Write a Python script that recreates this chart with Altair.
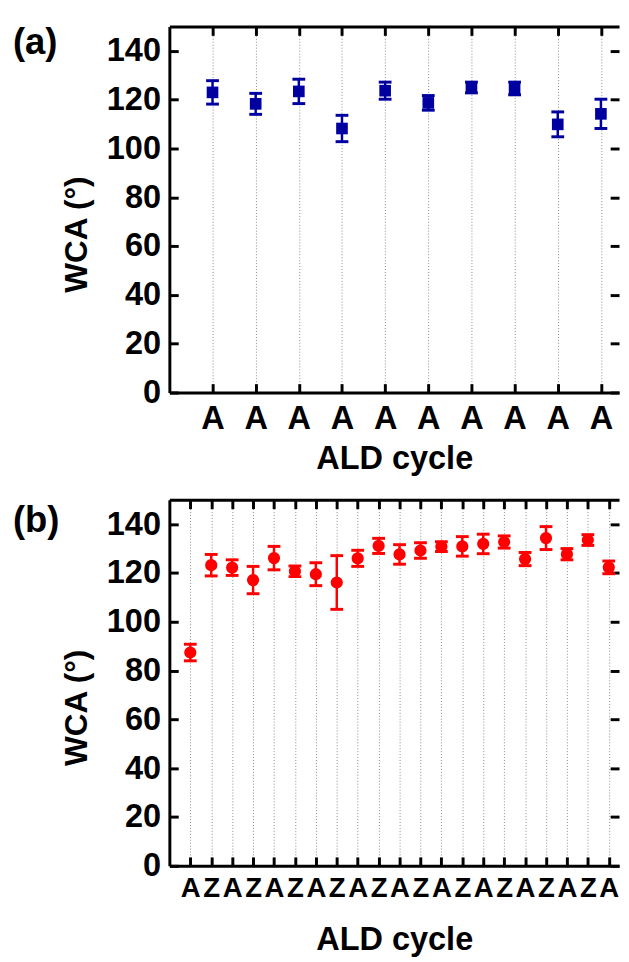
import altair as alt
import pandas as pd

# ---------------- data ----------------
# Panel (a)
a_cycle = ["A", "A", "A", "A", "A", "A", "A", "A", "A", "A"]
a_wca = [123.0, 118.3, 123.4, 108.2, 123.7, 118.7, 125.0, 124.6, 109.9, 114.2]
a_err = [4.8, 4.3, 5.0, 5.4, 3.5, 3.0, 2.2, 2.6, 5.1, 6.0]

# Panel (b)
b_cycle = ["A", "Z", "A", "Z", "A", "Z", "A", "Z", "A", "Z", "A",
           "Z", "A", "Z", "A", "Z", "A", "Z", "A", "Z", "A"]
b_wca = [87.4, 123.2, 122.2, 117.1, 126.1, 120.7, 119.5, 116.1, 126.0, 131.1, 127.6,
         129.2, 130.8, 130.9, 131.9, 132.7, 125.7, 134.3, 127.7, 133.5, 122.3]
b_err = [3.4, 4.4, 3.2, 5.6, 4.8, 2.2, 4.7, 11.0, 3.3, 3.1, 4.0,
         3.2, 2.0, 4.0, 4.0, 2.5, 2.7, 4.7, 2.3, 2.2, 2.6]

y_ticks = [0, 20, 40, 60, 80, 100, 120, 140]
panel_tags = ["(a)", "(b)"]
x_title = "ALD cycle"
y_title = "WCA (°)"

FONT = "Liberation Sans"
BLUE = "#0000A0"
RED = "#FF0000"


def make_df(cycles, wca, err):
    return pd.DataFrame({
        "pos": list(range(1, len(cycles) + 1)),
        "cycle": cycles,
        "wca": wca,
        "lo": [w - e for w, e in zip(wca, err)],
        "hi": [w + e for w, e in zip(wca, err)],
    })


def panel(cycles, wca, err, tag, color, shape, msize, xmax,
          xlab_size, xlab_pad, xtitle_y, tag_y):
    df = make_df(cycles, wca, err)
    pos = [int(p) for p in df["pos"]]
    xs = alt.Scale(domain=[0, xmax], nice=False, zero=False)
    ys = alt.Scale(domain=[0, 150], nice=False)
    label_expr = "[" + ",".join("'%s'" % c for c in cycles) + "][datum.value - 1]"
    tick_in = {"expr": "-9"}

    x_bottom = alt.Axis(
        orient="bottom", values=pos, labelExpr=label_expr, title=x_title,
        grid=True, gridColor="#8a8a8a", gridDash=[1, 2], gridWidth=1,
        ticks=True, tickSize=tick_in, tickWidth=3, tickColor="black",
        domain=True, domainWidth=3, domainColor="black",
        labelFontSize=xlab_size, labelPadding=xlab_pad, labelBaseline="alphabetic",
        labelFont=FONT, labelFontWeight="bold", labelColor="black", labelAngle=0,
        labelOverlap=False, labelFlush=False,
        titleFontSize=33, titleFont=FONT, titleFontWeight="bold", titleColor="black",
        titleY=xtitle_y, titleBaseline="alphabetic")
    x_top = alt.Axis(
        orient="top", values=pos, labels=False, title=None, grid=False,
        ticks=True, tickSize=tick_in, tickWidth=3, tickColor="black",
        domain=True, domainWidth=3, domainColor="black", minExtent=0)
    y_left = alt.Axis(
        orient="left", values=y_ticks, title=y_title, grid=False,
        ticks=True, tickSize=tick_in, tickWidth=3, tickColor="black",
        domain=True, domainWidth=3, domainColor="black",
        labelFontSize=33, labelPadding=18, labelFont=FONT, labelFontWeight="bold",
        labelColor="black", labelOverlap=False, labelFlush=False,
        titleFontSize=32, titleFont=FONT, titleFontWeight="bold", titleColor="black",
        titleX=-94, titleY=211, titleAngle=270, titleBaseline="middle", titleAlign="center")
    y_right = alt.Axis(
        orient="right", values=y_ticks, labels=False, title=None, grid=False,
        ticks=True, tickSize=tick_in, tickWidth=3, tickColor="black", domain=False,
        minExtent=0)

    base = alt.Chart(df)
    rules = base.mark_rule(color=color, strokeWidth=2.5).encode(
        x=alt.X("pos:Q", scale=xs, axis=x_top),
        y=alt.Y("lo:Q", scale=ys, axis=y_right),
        y2="hi:Q")
    cap_lo = base.mark_tick(orient="horizontal", color=color, size=13, thickness=3, opacity=1).encode(
        x=alt.X("pos:Q", scale=xs, axis=None),
        y=alt.Y("lo:Q", scale=ys, axis=None))
    cap_hi = base.mark_tick(orient="horizontal", color=color, size=13, thickness=3, opacity=1).encode(
        x=alt.X("pos:Q", scale=xs, axis=None),
        y=alt.Y("hi:Q", scale=ys, axis=None))
    points = base.mark_point(shape=shape, filled=True, size=msize, color=color, opacity=1).encode(
        x=alt.X("pos:Q", scale=xs, axis=x_bottom),
        y=alt.Y("wca:Q", scale=ys, axis=y_left))
    tag_text = alt.Chart(pd.DataFrame({"tag": [tag]})).mark_text(
        align="left", baseline="top", fontSize=37, fontWeight="bold",
        font=FONT, color="black").encode(
        x=alt.value(-159), y=alt.value(tag_y), text="tag:N")

    return alt.layer(rules, cap_lo, cap_hi, points, tag_text).resolve_axis(
        x="independent", y="independent").properties(width=457, height=372)


pa = panel(a_cycle, a_wca, a_err, panel_tags[0], BLUE, "square", 140, 10.42,
           33, 45.7, 77, -1.5)
pb = panel(b_cycle, b_wca, b_err, panel_tags[1], RED, "circle", 154, 21.49,
           28, 40, 85, 3.3)

chart = alt.vconcat(pa, pb, spacing=23).properties(
    padding={"left": 5, "top": 8, "right": 0, "bottom": 0}
).configure_view(strokeWidth=0)

chart.save("out.html", embed_options={"renderer": "svg", "actions": False})
